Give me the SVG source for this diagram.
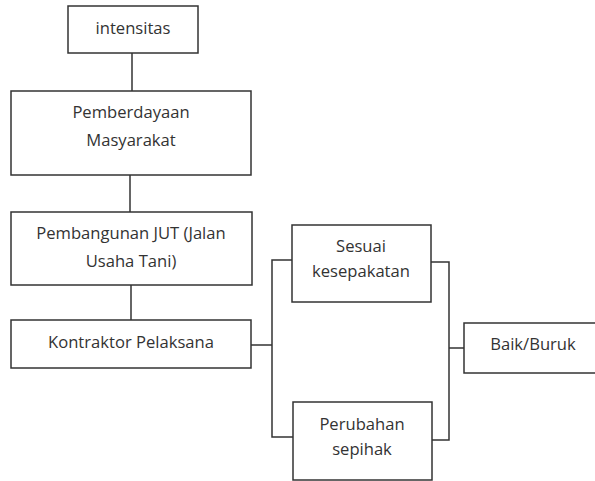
<svg xmlns="http://www.w3.org/2000/svg" width="595" height="481" viewBox="0 0 595 481">
<style>
rect{fill:#fff;stroke:#333;stroke-width:1.5}
text{font-family:"Open Sans","Liberation Sans",sans-serif;font-size:16.6px;fill:#333;text-anchor:middle}
.c{fill:none;stroke:#333;stroke-width:1.5}
</style>
<rect x="0" y="0" width="595" height="481" style="stroke:none"/>
<g id="connectors">
<path class="c" d="M132 53V91"/>
<path class="c" d="M130 175V212"/>
<path class="c" d="M131 285V320"/>
<path class="c" d="M251 345H272"/>
<path class="c" d="M292 260H272V437H293"/>
<path class="c" d="M431 262H449V440H432"/>
<path class="c" d="M449 348H464"/>
</g>
<g id="intensitas"><rect x="68" y="6" width="130" height="47"/><text x="133" y="34">intensitas</text></g>
<g id="pemberdayaan"><rect x="11" y="91" width="240" height="84"/><text x="131" y="118">Pemberdayaan</text><text x="131" y="146">Masyarakat</text></g>
<g id="pembangunan"><rect x="11" y="212" width="241" height="73"/><text x="131" y="239">Pembangunan JUT (Jalan</text><text x="131" y="267">Usaha Tani)</text></g>
<g id="kontraktor"><rect x="11" y="320" width="240" height="48"/><text x="131" y="348">Kontraktor Pelaksana</text></g>
<g id="sesuai"><rect x="292" y="225" width="139" height="77"/><text x="361" y="252">Sesuai</text><text x="361" y="277">kesepakatan</text></g>
<g id="perubahan"><rect x="293" y="402" width="139" height="78"/><text x="362" y="430">Perubahan</text><text x="362" y="455">sepihak</text></g>
<g id="baik"><rect x="464" y="323" width="140" height="50"/><text x="533" y="350">Baik/Buruk</text></g>
</svg>
